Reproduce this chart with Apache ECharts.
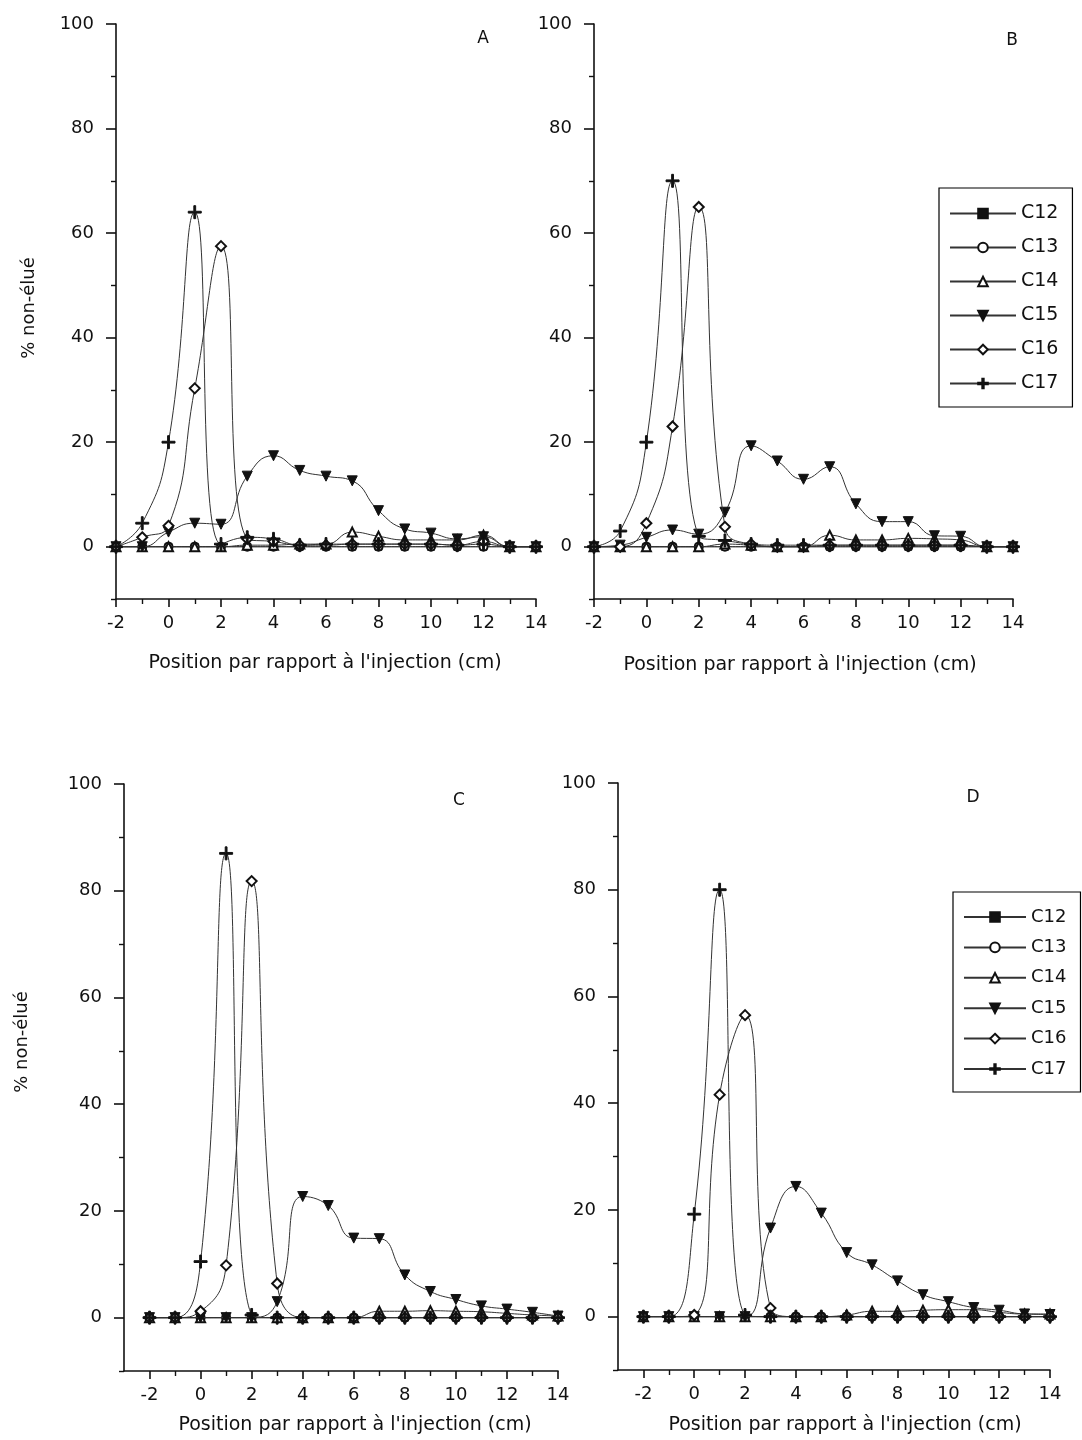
<!DOCTYPE html>
<html><head><meta charset="utf-8">
<script src="https://cdn.jsdelivr.net/npm/echarts@6/dist/echarts.min.js"></script>
<style>html,body{margin:0;padding:0;background:#fff}#c{width:1082px;height:1440px}</style>
</head><body><div id="c"></div><script>
// ---- data ----
const positions = [-2,-1,0,1,2,3,4,5,6,7,8,9,10,11,12,13,14];
const xTickMajor = [-2,0,2,4,6,8,10,12,14];
const xTickMinor = [-1,1,3,5,7,9,11,13];
const yTickMajor = [0,20,40,60,80,100];
const yTickMinor = [-10,10,30,50,70,90];
const seriesNames = ['C12','C13','C14','C15','C16','C17'];
const panelLabels = ['A','B','C','D'];
const yAxisTitle = '% non-élué';
const xAxisTitle = "Position par rapport à l'injection (cm)";

const A_C12 = [0,0,0,0,0,0,0,0,0,0,0,0,0,0,0,0,0];
const A_C13 = [0,0,0,0,0,0,0,0,0,0,0,0,0,0,0,0,0];
const A_C14 = [0,0,0,0,0,0.3,0.3,0.5,0.5,2.8,2,1.3,1.3,1.3,2.2,0,0];
const A_C15 = [0,0,2.8,4.5,4.3,13.5,17.4,14.6,13.5,12.6,6.9,3.4,2.6,1.5,1.9,0,0];
const A_C16 = [0,1.8,4,30.3,57.5,1.5,1,0.3,0.3,0.5,0.5,0.5,0.5,0.3,1,0,0];
const A_C17 = [0,4.5,20,64,0.5,1.8,1.5,0.3,0.5,0.5,0.5,0.5,0.5,0.3,0.5,0,0];

const B_C12 = [0,0,0,0,0,0,0,0,0,0,0,0,0,0,0,0,0];
const B_C13 = [0,0,0,0,0,0,0,0,0,0,0,0,0,0,0,0,0];
const B_C14 = [0,0,0,0,0,0.5,0.3,0,0,2.2,1.3,1.3,1.6,1.5,1.3,0,0];
const B_C15 = [0,0.3,1.8,3.2,2.4,6.6,19.3,16.4,12.9,15.3,8.2,4.8,4.8,2.1,2,0,0];
const B_C16 = [0,0,4.5,23,65,3.8,0.5,0,0,0.3,0.3,0.3,0.3,0.3,0.3,0,0];
const B_C17 = [0,3,20,70,2,1.2,0.5,0.3,0.3,0.3,0.3,0.3,0.3,0.3,0.3,0,0];

const C_C12 = [0,0,0,0,0,0,0,0,0,0,0,0,0,0,0,0,0];
const C_C13 = [0,0,0,0,0,0,0,0,0,0,0,0,0,0,0,0,0];
const C_C14 = [0,0,0,0,0,0,0,0,0,1.2,1.2,1.3,1.2,1.1,0.8,0.5,0.3];
const C_C15 = [0,0,0,0,0,3,22.7,21,14.9,14.8,8,4.9,3.4,2.2,1.6,1,0.3];
const C_C16 = [0,0,1.2,9.8,81.8,6.4,0,0,0,0,0,0,0,0,0,0,0];
const C_C17 = [0,0,10.5,87,0.5,0,0,0,0,0,0,0,0,0,0,0,0];

const D_C12 = [0,0,0,0,0,0,0,0,0,0,0,0,0,0,0,0,0];
const D_C13 = [0,0,0,0,0,0,0,0,0,0,0,0,0,0,0,0,0];
const D_C14 = [0,0,0,0,0,0,0,0,0.3,1,1,1.2,1.3,1.3,0.8,0.5,0.5];
const D_C15 = [0,0,0,0,0,16.6,24.4,19.4,12,9.7,6.7,4.1,2.8,1.7,1.2,0.5,0.4];
const D_C16 = [0,0,0.3,41.6,56.5,1.6,0,0,0,0,0,0,0,0,0,0,0];
const D_C17 = [0,0,19.2,80,0.3,0,0,0,0,0,0,0,0,0,0,0,0];

const panelData = [
  [A_C12,A_C13,A_C14,A_C15,A_C16,A_C17],
  [B_C12,B_C13,B_C14,B_C15,B_C16,B_C17],
  [C_C12,C_C13,C_C14,C_C15,C_C16,C_C17],
  [D_C12,D_C13,D_C14,D_C15,D_C16,D_C17]
];

// ---- layout & style ----
const grids = [
  {left:116, top:24, width:420, height:575, xmin:-2},
  {left:594, top:24, width:419, height:575, xmin:-2},
  {left:124, top:784, width:434, height:587, xmin:-3},
  {left:618, top:783, width:432, height:587, xmin:-3}
];
const INK = '#111';
const FONT = 'DejaVu Sans, Arial, sans-serif';
const PLUS = 'path://M4.3,0 H5.7 V4.3 H10 V5.7 H5.7 V10 H4.3 V5.7 H0 V4.3 H4.3 Z';
const symbols = [
  {symbol:'rect', size:7, rotate:0},
  {symbol:'emptyCircle', size:8, rotate:0},
  {symbol:'emptyTriangle', size:9, rotate:0},
  {symbol:'triangle', size:10, rotate:180},
  {symbol:'emptyDiamond', size:10, rotate:0},
  {symbol:PLUS, size:13, rotate:0}
];

const xAxes = [], yAxes = [], series = [];
grids.forEach((g, gi) => {
  xAxes.push({
    type:'value', gridIndex:gi, min:g.xmin, max:14, position:'bottom',
    axisLine:{show:true, onZero:false, lineStyle:{color:INK, width:1.6}},
    axisTick:{show:true, length:8, customValues:xTickMajor, lineStyle:{color:INK, width:1.6}},
    axisLabel:{show:true, customValues:xTickMajor, margin:15, fontSize:18, color:'#111', fontFamily:FONT},
    splitLine:{show:false}
  });
  xAxes.push({
    type:'value', gridIndex:gi, min:g.xmin, max:14, position:'bottom', offset:0,
    axisLine:{show:false, onZero:false},
    axisTick:{show:true, length:5, customValues:xTickMinor, lineStyle:{color:INK, width:1.4}},
    axisLabel:{show:false}, splitLine:{show:false}
  });
  yAxes.push({
    type:'value', gridIndex:gi, min:-10, max:100, position:'left',
    axisLine:{show:true, onZero:false, lineStyle:{color:INK, width:1.6}},
    axisTick:{show:true, length:10, customValues:yTickMajor, lineStyle:{color:INK, width:1.6}},
    axisLabel:{show:true, customValues:yTickMajor, margin:22, fontSize:18, color:'#111', fontFamily:FONT},
    splitLine:{show:false}
  });
  yAxes.push({
    type:'value', gridIndex:gi, min:-10, max:100, position:'left', offset:0,
    axisLine:{show:false, onZero:false},
    axisTick:{show:true, length:5, customValues:yTickMinor, lineStyle:{color:INK, width:1.4}},
    axisLabel:{show:false}, splitLine:{show:false}
  });
  panelData[gi].forEach((vals, si) => {
    const s = symbols[si];
    series.push({
      type:'line', name:seriesNames[si],
      xAxisIndex:gi*2, yAxisIndex:gi*2,
      data: positions.map((p, k) => [p, vals[k]]),
      smooth:0.5,
      symbol:s.symbol, symbolSize:s.size, symbolRotate:s.rotate,
      showAllSymbol:true,
      lineStyle:{color:'#333', width:1},
      itemStyle:{color:INK, borderColor:INK, borderWidth:1},
      emphasis:{disabled:true},
      animation:false,
      z: 2 + si
    });
  });
});

const legendCommon = {
  orient:'vertical', data:seriesNames,
  borderColor:'#000', borderWidth:1.2, backgroundColor:'#fff',
  textStyle:{fontSize:19, color:'#111', fontFamily:FONT},
  selectedMode:false, itemHeight:12, inactiveColor:'#111'
};
const legends = [
  Object.assign({}, legendCommon, {left:939, top:188, itemWidth:66, itemGap:15, padding:[16,14,14,10]}),
  Object.assign({}, legendCommon, {left:953, top:892, itemWidth:62, itemGap:12.4, padding:[16,14,14,10],
    textStyle:{fontSize:18, color:'#111', fontFamily:FONT}})
];

const txt = (x, y, text, size, rot) => ({
  type:'text', x:x, y:y, rotation: rot || 0,
  style:{text:text, fontSize:size, fill:'#111', fontFamily:FONT, align:'center', verticalAlign:'middle'}
});

const graphic = [
  txt(483, 39, panelLabels[0], 17),
  txt(1012, 41, panelLabels[1], 17),
  txt(459, 801, panelLabels[2], 17),
  txt(973, 798, panelLabels[3], 17),
  txt(29, 308, yAxisTitle, 18, Math.PI/2),
  txt(22, 1042, yAxisTitle, 18, Math.PI/2),
  txt(325, 663, xAxisTitle, 19),
  txt(800, 665, xAxisTitle, 19),
  txt(355, 1425, xAxisTitle, 19),
  txt(845, 1425, xAxisTitle, 19)
];

const chart = echarts.init(document.getElementById('c'), null, {renderer:'canvas'});
chart.setOption({
  backgroundColor:'#fff',
  animation:false,
  grid: grids.map(g => ({left:g.left, top:g.top, width:g.width, height:g.height, containLabel:false})),
  xAxis: xAxes,
  yAxis: yAxes,
  legend: legends,
  graphic: graphic,
  series: series
});
</script></body></html>
